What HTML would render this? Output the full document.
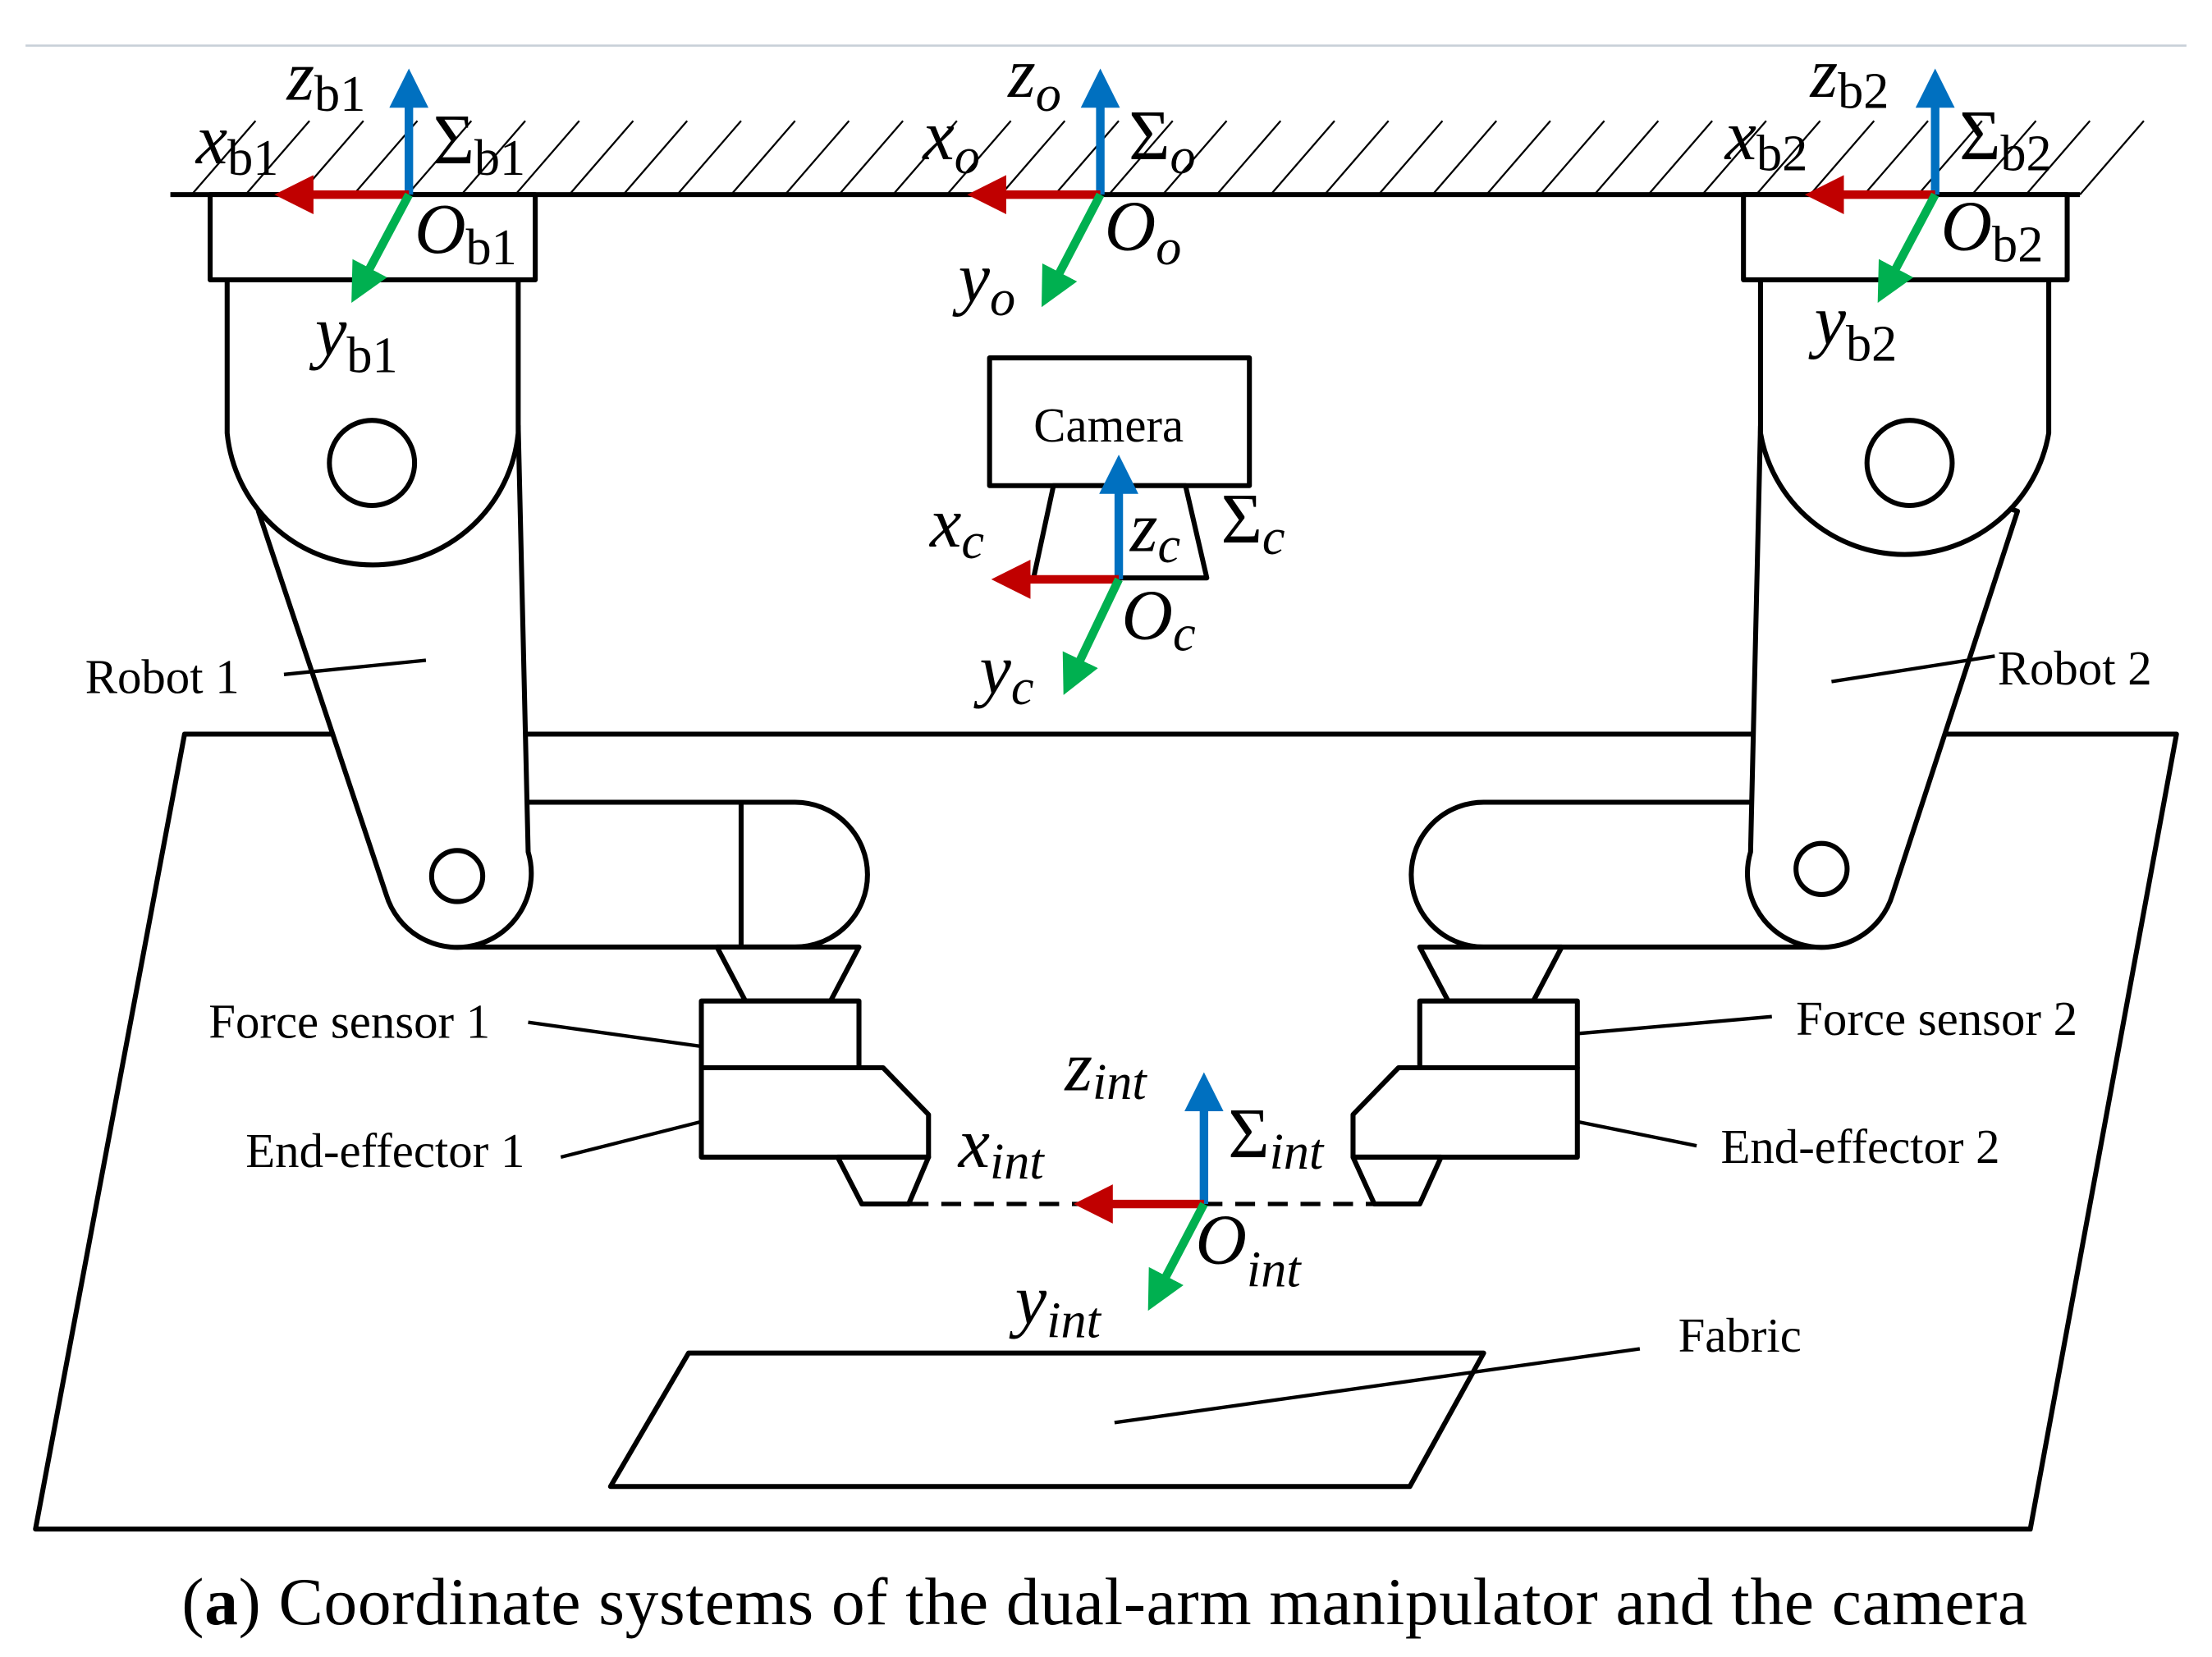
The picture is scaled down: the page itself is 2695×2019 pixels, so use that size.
<!DOCTYPE html>
<html><head><meta charset="utf-8"><style>html,body{margin:0;padding:0;background:#fff}svg{display:block}</style></head><body>
<svg width="2695" height="2019" viewBox="0 0 1558 1167" xmlns="http://www.w3.org/2000/svg">
<defs>
<marker id="ab" viewBox="0 0 10 10" refX="5" refY="5" markerWidth="4.6" markerHeight="4.6" orient="auto"><path d="M0,0L10,5L0,10z" fill="#0070c0"/></marker>
<marker id="ar" viewBox="0 0 10 10" refX="5" refY="5" markerWidth="4.6" markerHeight="4.6" orient="auto"><path d="M0,0L10,5L0,10z" fill="#c00000"/></marker>
<marker id="ag" viewBox="0 0 10 10" refX="5" refY="5" markerWidth="4.6" markerHeight="4.6" orient="auto"><path d="M0,0L10,5L0,10z" fill="#00b050"/></marker>
</defs>
<line x1="18" y1="32" x2="1540" y2="32" stroke="#c8d0d8" stroke-width="1.5"/>
<g stroke="#000" stroke-width="1.3">
<path d="M135,137l45,-52M173,137l45,-52M211,137l45,-52M249,137l45,-52M287,137l45,-52M325,137l45,-52M363,137l45,-52M401,137l45,-52M439,137l45,-52M477,137l45,-52M515,137l45,-52M553,137l45,-52M591,137l45,-52M629,137l45,-52M667,137l45,-52M705,137l45,-52M743,137l45,-52M781,137l45,-52M819,137l45,-52M857,137l45,-52M895,137l45,-52M933,137l45,-52M971,137l45,-52M1009,137l45,-52M1047,137l45,-52M1085,137l45,-52M1123,137l45,-52M1161,137l45,-52M1199,137l45,-52M1237,137l45,-52M1275,137l45,-52M1313,137l45,-52M1351,137l45,-52M1389,137l45,-52M1427,137l45,-52M1465,137l45,-52"/>
</g>
<g fill="#fff" stroke="#000" stroke-width="3.5" stroke-linejoin="round">
<line x1="120" y1="137" x2="1465" y2="137"/>
<polygon points="130,517 1533,517 1430,1077 25,1077"/>
<polygon points="485,953 1045,953 993,1047 430,1047"/>
<!-- robot 1 -->
<path d="M372,565 L560,565 A51,51 0 0 1 560,667 L322,667"/>
<line x1="522" y1="565" x2="522" y2="667"/>
<path d="M182,360 L272,630 A52,52 0 0 0 372,600 L365,300 Z"/>
<path d="M160,197 L160,305 A103,103 0 0 0 365,305 L365,197 Z"/>
<circle cx="262" cy="326" r="30"/>
<circle cx="322" cy="617" r="18"/>
<polygon points="505,667 605,667 585,705 525,705"/>
<rect x="494" y="705" width="111" height="47"/>
<polygon points="494,752 622,752 654,785 654,815 494,815"/>
<polygon points="590,815 654,815 640,848 607,848"/>
<rect x="148" y="137" width="229" height="60"/>
<!-- robot 2 -->
<path d="M1233,565 L1045,565 A51,51 0 0 0 1045,667 L1283,667"/>
<path d="M1421,360 L1333,630 A52,52 0 0 1 1233,600 L1240,300 Z"/>
<path d="M1443,197 L1443,305 A103,103 0 0 1 1240,305 L1240,197 Z"/>
<circle cx="1345" cy="326" r="30"/>
<circle cx="1283" cy="612" r="18"/>
<polygon points="1000,667 1100,667 1080,705 1020,705"/>
<rect x="1000" y="705" width="111" height="47"/>
<polygon points="1111,752 985,752 953,785 953,815 1111,815"/>
<polygon points="1015,815 953,815 968,848 1000,848"/>
<rect x="1228" y="137" width="228" height="60"/>
<!-- camera -->
<rect x="697" y="252" width="183" height="90"/>
<polygon points="742,342 835,342 850,407 728,407"/>
</g>
<line x1="640" y1="848" x2="968" y2="848" stroke="#000" stroke-width="3" stroke-dasharray="14,9"/>
<g stroke="#000" stroke-width="2.5">
<line x1="200" y1="475" x2="300" y2="465"/><line x1="1290" y1="480" x2="1405" y2="462"/>
<line x1="372" y1="720" x2="494" y2="737"/><line x1="395" y1="815" x2="494" y2="790"/>
<line x1="1111" y1="728" x2="1248" y2="716"/><line x1="1111" y1="790" x2="1195" y2="807"/>
<line x1="785" y1="1002" x2="1155" y2="950"/>
</g>
<g stroke-width="6">
<line x1="288" y1="137" x2="288" y2="62" stroke="#0070c0" marker-end="url(#ab)"/><line x1="288" y1="137" x2="207" y2="137" stroke="#c00000" marker-end="url(#ar)"/><line x1="288" y1="137" x2="254" y2="201" stroke="#00b050" marker-end="url(#ag)"/>
<line x1="775" y1="137" x2="775" y2="62" stroke="#0070c0" marker-end="url(#ab)"/><line x1="775" y1="137" x2="695" y2="137" stroke="#c00000" marker-end="url(#ar)"/><line x1="775" y1="137" x2="740" y2="204" stroke="#00b050" marker-end="url(#ag)"/>
<line x1="1363" y1="137" x2="1363" y2="62" stroke="#0070c0" marker-end="url(#ab)"/><line x1="1363" y1="137" x2="1285" y2="137" stroke="#c00000" marker-end="url(#ar)"/><line x1="1363" y1="137" x2="1329" y2="201" stroke="#00b050" marker-end="url(#ag)"/>
<line x1="788" y1="408" x2="788" y2="334" stroke="#0070c0" marker-end="url(#ab)"/><line x1="788" y1="408" x2="712" y2="408" stroke="#c00000" marker-end="url(#ar)"/><line x1="788" y1="408" x2="755" y2="477" stroke="#00b050" marker-end="url(#ag)"/>
<line x1="848" y1="848" x2="848" y2="769" stroke="#0070c0" marker-end="url(#ab)"/><line x1="848" y1="848" x2="770" y2="848" stroke="#c00000" marker-end="url(#ar)"/><line x1="848" y1="848" x2="815" y2="911" stroke="#00b050" marker-end="url(#ag)"/>
</g>
<g font-family="Liberation Serif, serif" fill="#000">
<g font-style="italic" font-size="50">
<text x="202" y="70">z<tspan font-style="normal" font-size="36" dy="8">b1</tspan></text>
<text x="138" y="115">x<tspan font-style="normal" font-size="36" dy="8">b1</tspan></text>
<text x="305" y="115" font-style="normal">Σ<tspan font-size="36" dy="8">b1</tspan></text>
<text x="292" y="178">O<tspan font-style="normal" font-size="36" dy="8">b1</tspan></text>
<text x="222" y="250">y<tspan font-style="normal" font-size="36" dy="12">b1</tspan></text>
<text x="710" y="68">z<tspan font-size="36" dy="10">o</tspan></text>
<text x="650" y="112">x<tspan font-size="36" dy="10">o</tspan></text>
<text x="795" y="112" font-style="normal">Σ<tspan font-style="italic" font-size="36" dy="10">o</tspan></text>
<text x="778" y="176">O<tspan font-size="36" dy="10">o</tspan></text>
<text x="675" y="212">y<tspan font-size="36" dy="10">o</tspan></text>
<text x="1275" y="68">z<tspan font-style="normal" font-size="36" dy="8">b2</tspan></text>
<text x="1215" y="112">x<tspan font-style="normal" font-size="36" dy="8">b2</tspan></text>
<text x="1380" y="112" font-style="normal">Σ<tspan font-size="36" dy="8">b2</tspan></text>
<text x="1367" y="176">O<tspan font-style="normal" font-size="36" dy="8">b2</tspan></text>
<text x="1278" y="242">y<tspan font-style="normal" font-size="36" dy="12">b2</tspan></text>
<text x="655" y="385">x<tspan font-size="36" dy="8">c</tspan></text>
<text x="796" y="388">z<tspan font-size="36" dy="8">c</tspan></text>
<text x="860" y="382" font-style="normal">Σ<tspan font-style="italic" font-size="36" dy="8">c</tspan></text>
<text x="790" y="450">O<tspan font-size="36" dy="8">c</tspan></text>
<text x="690" y="488">y<tspan font-size="36" dy="8">c</tspan></text>
<text x="750" y="768">z<tspan font-size="36" dy="6">int</tspan></text>
<text x="675" y="822">x<tspan font-size="36" dy="8">int</tspan></text>
<text x="865" y="815" font-style="normal">Σ<tspan font-style="italic" font-size="36" dy="8">int</tspan></text>
<text x="842" y="890">O<tspan font-size="36" dy="16">int</tspan></text>
<text x="715" y="932">y<tspan font-size="36" dy="10">int</tspan></text>
</g>
<text x="728" y="311" font-size="34">Camera</text>
<g font-size="34">
<text x="60" y="488">Robot 1</text>
<text x="1407" y="482">Robot 2</text>
<text x="147" y="731">Force sensor 1</text>
<text x="173" y="822">End-effector 1</text>
<text x="1265" y="729">Force sensor 2</text>
<text x="1212" y="819">End-effector 2</text>
<text x="1182" y="952">Fabric</text>
</g>
<text x="778" y="1144" font-size="47" text-anchor="middle" textLength="1300">(<tspan font-weight="bold">a</tspan>) Coordinate systems of the dual-arm manipulator and the camera</text>
</g>
</svg>
</body></html>
